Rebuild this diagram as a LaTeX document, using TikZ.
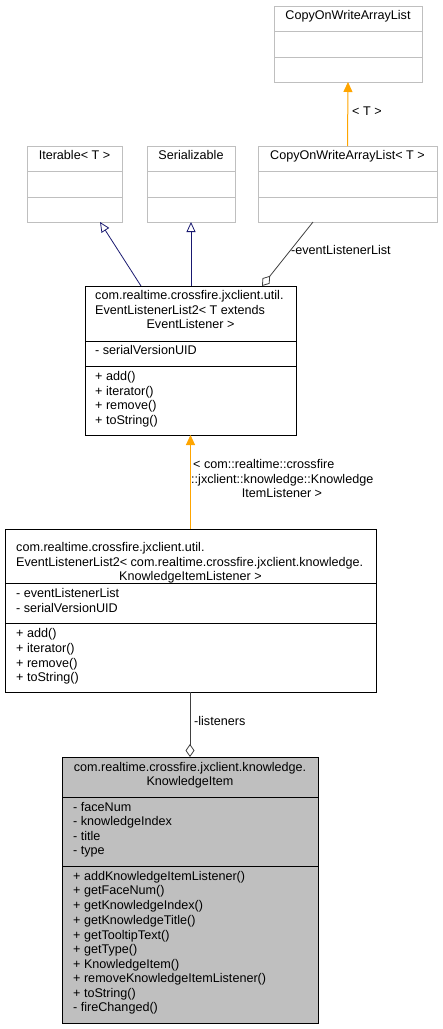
\documentclass[tikz,border=0pt]{standalone}
\usepackage{fontspec}
\setmainfont{Liberation Sans}
\usepackage{xcolor}
\usetikzlibrary{arrows.meta, positioning, calc}

\definecolor{extgray}{HTML}{BFBFBF}
\definecolor{navyline}{HTML}{191970}
\definecolor{aggline}{HTML}{404040}
\definecolor{tmplorange}{HTML}{FFA500}

\begin{document}
\begin{tikzpicture}[
		x=1pt, y=-1pt,
		extclass/.style={rectangle, draw=extgray, line width=1pt, inner sep=0pt, outer sep=0pt},
		class/.style={rectangle, draw=black, line width=0.8pt, inner sep=0pt, outer sep=0pt},
		mainclass/.style={rectangle, draw=black, fill=extgray, line width=0.9pt, inner sep=0pt, outer sep=0pt},
		txt/.style={inner sep=0pt, anchor=mid west, font=\fontsize{12.6}{14}\selectfont},
		ctxt/.style={inner sep=0pt, anchor=mid, font=\fontsize{12.6}{14}\selectfont},
		inherit/.style={navyline, line width=0.8pt, -{Triangle[open, length=10pt, width=9pt]}},
		tmpl/.style={tmplorange, line width=1pt, -{Triangle[length=10pt, width=9pt]}},
		aggr/.style={aggline, line width=0.8pt, -{Diamond[open, length=13pt, width=9pt]}}
		]
		\useasboundingbox (0,0) rectangle (443,1029);
		
		% External classes
		\node[extclass, minimum width=148, minimum height=76] (cow) at (348,44) {};
		\node[ctxt] (cowtitle) at (348,17) {CopyOnWriteArrayList};
		\draw[extgray, line width=1pt] (274,31) -- (422,31) (274,57) -- (422,57);
		
		\node[extclass, minimum width=95, minimum height=76] (iter) at (74.5,184) {};
		\node[ctxt] (itertitle) at (74.5,157) {Iterable< T >};
		\draw[extgray, line width=1pt] (27,171) -- (122,171) (27,197) -- (122,197);
		
		\node[extclass, minimum width=88, minimum height=76] (ser) at (191,184) {};
		\node[ctxt] (sertitle) at (191,157) {Serializable};
		\draw[extgray, line width=1pt] (147,171) -- (235,171) (147,197) -- (235,197);
		
		\node[extclass, minimum width=179, minimum height=76] (cowt) at (347.5,184) {};
		\node[ctxt] (cowttitle) at (347.5,157) {CopyOnWriteArrayList< T >};
		\draw[extgray, line width=1pt] (258,171) -- (437,171) (258,197) -- (437,197);
		
		% Generic list
		\node[class, minimum width=211, minimum height=149] (ell) at (190.5,360.5) {};
		\node[txt] (elltitlea) at (95,297) {com.realtime.crossfire.jxclient.util.};
		\node[txt] (elltitleb) at (95,311.5) {EventListenerList2< T extends};
		\node[ctxt] (elltitlec) at (190.5,326) {EventListener >};
		\draw[line width=0.8pt] (85,341) -- (296,341) (85,366) -- (296,366);
		\node[txt] (ellattr) at (95,352) {- serialVersionUID};
		\node[txt] (ellopa) at (95,378) {+ add()};
		\node[txt] (ellopb) at (95,392.5) {+ iterator()};
		\node[txt] (ellopc) at (95,407) {+ remove()};
		\node[txt] (ellopd) at (95,421.5) {+ toString()};
		
		% Bound list
		\node[class, minimum width=371, minimum height=163] (kil) at (190.5,610.5) {};
		\node[txt] (kiltitlea) at (16,549) {com.realtime.crossfire.jxclient.util.};
		\node[txt] (kiltitleb) at (16,563.5) {EventListenerList2< com.realtime.crossfire.jxclient.knowledge.};
		\node[ctxt] (kiltitlec) at (190.5,578) {KnowledgeItemListener >};
		\draw[line width=0.8pt] (5,583) -- (376,583) (5,623.5) -- (376,623.5);
		\node[txt] (kilattra) at (16,595) {- eventListenerList};
		\node[txt] (kilattrb) at (16,610) {- serialVersionUID};
		\node[txt] (kilopa) at (16,635) {+ add()};
		\node[txt] (kilopb) at (16,650) {+ iterator()};
		\node[txt] (kilopc) at (16,664.5) {+ remove()};
		\node[txt] (kilopd) at (16,679) {+ toString()};
		
		% Knowledge item
		\node[mainclass, minimum width=256, minimum height=266] (ki) at (190,890) {};
		\node[ctxt] (kititlea) at (190,769) {com.realtime.crossfire.jxclient.knowledge.};
		\node[ctxt] (kititleb) at (190,783) {KnowledgeItem};
		\draw[line width=0.9pt] (62,797) -- (318,797) (62,866) -- (318,866);
		\node[txt] (kiattra) at (73,808.5) {- faceNum};
		\node[txt] (kiattrb) at (73,822.5) {- knowledgeIndex};
		\node[txt] (kiattrc) at (73,837.5) {- title};
		\node[txt] (kiattrd) at (73,852) {- type};
		\node[txt] (kiopa) at (73,877.5) {+ addKnowledgeItemListener()};
		\node[txt] (kiopb) at (73,892) {+ getFaceNum()};
		\node[txt] (kiopc) at (73,906.5) {+ getKnowledgeIndex()};
		\node[txt] (kiopd) at (73,921.5) {+ getKnowledgeTitle()};
		\node[txt] (kiope) at (73,936.5) {+ getTooltipText()};
		\node[txt] (kiopf) at (73,951) {+ getType()};
		\node[txt] (kiopg) at (73,965.5) {+ KnowledgeItem()};
		\node[txt] (kioph) at (73,980) {+ removeKnowledgeItemListener()};
		\node[txt] (kiopi) at (73,994.5) {+ toString()};
		\node[txt] (kiopj) at (73,1009) {- fireChanged()};
		
		% Arrows
		\draw[tmpl] (cowt.north) -- (cow.south);
		\node[txt] (cowlabel) at (352,113) {< T >};
		\draw[inherit] ([xshift=-49.5]ell.north) -- ([xshift=25.5]iter.south);
		\draw[inherit] ([xshift=0.5]ell.north) -- (ser.south);
		\draw[aggr] ([xshift=-34.5]cowt.south) -- ([xshift=71.5]ell.north);
		\node[txt] (ellagglabel) at (291,252) {-eventListenerList};
		\draw[tmpl] (kil.north) -- (ell.south);
		\node[txt] (killabela) at (193,466) {< com::realtime::crossfire};
		\node[txt] (killabelb) at (191,481) {::jxclient::knowledge::Knowledge};
		\node[ctxt] (killabelc) at (282,495) {ItemListener >};
		\draw[aggr] ([xshift=-0.5]kil.south) -- (ki.north);
		\node[txt] (kilagglabel) at (194,723) {-listeners};
		
	\end{tikzpicture}
\end{document}
